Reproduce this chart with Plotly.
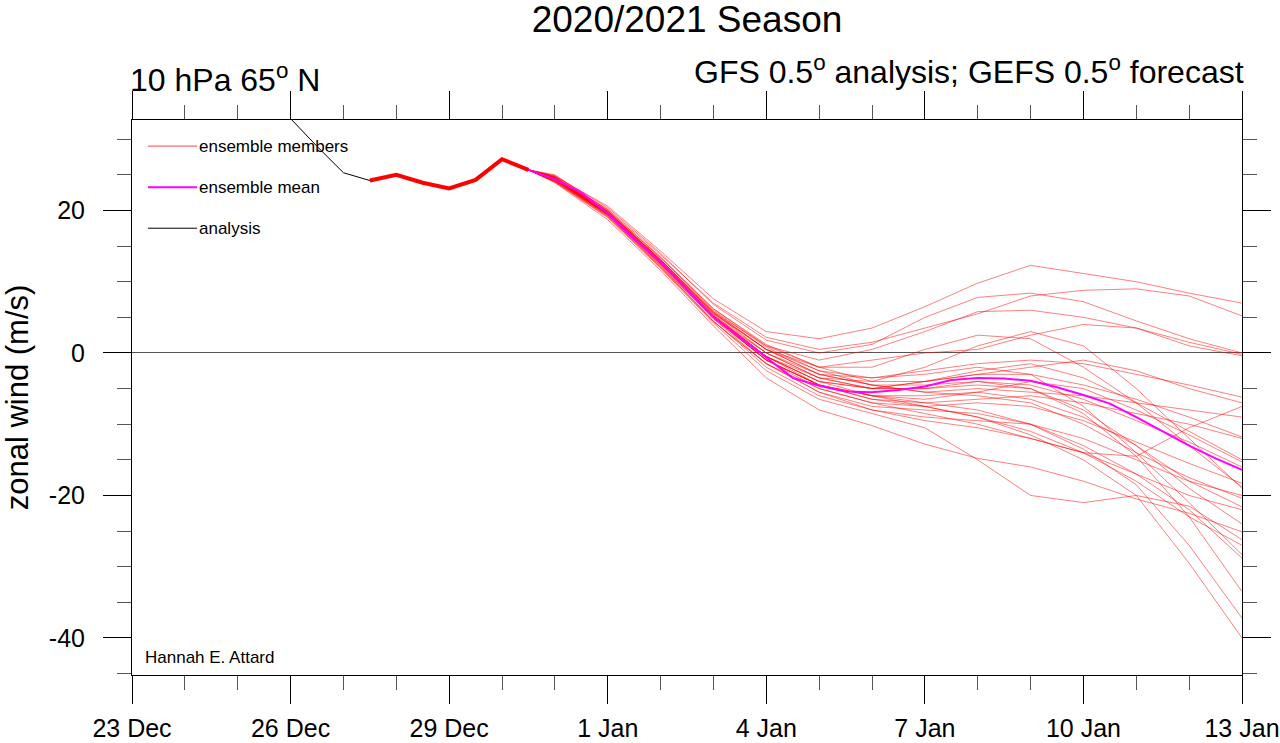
import pandas as pd
import plotly.graph_objects as go

# analise GFS (as primeiras horas saem pelo topo do grafico)
analysis_time = ['2020-12-26 00:00', '2020-12-26 12:00', '2020-12-27 00:00', '2020-12-27 12:00']
analysis_wind = [32.9, 29.0, 25.3, 24.2]

# inicio comum do ensemble, de 12 em 12 horas
start_time = list(pd.date_range('2020-12-27 12:00', '2020-12-30 12:00', freq='12h'))
start_wind = [24.2, 25.0, 23.9, 23.1, 24.3, 27.2, 25.7]

# membros do GEFS: 30 Dec 12Z, depois diario de 31 Dec ate 13 Jan
member_time = ['2020-12-30 12:00'] + list(pd.date_range('2020-12-31', '2021-01-13', freq='D'))
members = [
    [24.8, 20.6, 14.3, 7.6, 3.0, 2.0, 3.5, 6.5, 9.8, 12.3, 11.2, 10.0, 8.4, 7.0],
    [24.6, 20.2, 13.8, 7.0, 2.2, 0.5, 1.5, 3.5, 5.5, 8.0, 8.8, 9.0, 8.0, 5.2],
    [24.9, 20.4, 14.0, 6.8, 1.8, 0.0, 1.2, 5.0, 7.8, 8.4, 7.2, 4.5, 2.0, 0.0],
    [24.5, 19.9, 13.3, 6.2, 1.0, -1.0, 0.5, 3.0, 5.8, 6.0, 5.0, 3.5, 1.5, -0.2],
    [24.3, 19.5, 12.8, 5.6, 0.5, -2.0, -1.0, 0.0, 0.5, 2.5, 4.0, 3.5, 1.0, -0.4],
    [24.4, 19.6, 12.6, 5.0, 0.0, -3.0, -3.5, -2.5, -1.5, -1.0, -1.5, -3.0, -4.5, -6.2],
    [24.6, 19.8, 13.1, 5.8, 1.0, -2.0, -4.0, -4.0, -3.0, -2.0, -1.0, -2.5, -5.0, -7.0],
    [24.1, 19.2, 12.0, 4.4, -1.5, -5.0, -7.0, -8.5, -10.0, -12.0, -14.0, -14.5, -10.5, -7.5],
    [24.4, 19.6, 12.7, 5.2, -0.5, -4.0, -5.0, -4.0, -3.0, -3.0, -4.5, -6.5, -9.0, -11.8],
    [24.7, 19.9, 13.0, 5.5, 0.5, -2.5, -4.5, -5.5, -5.0, -5.5, -6.0, -7.0, -8.0, -9.0],
    [24.2, 19.4, 12.4, 4.8, -1.0, -4.5, -6.5, -7.0, -6.5, -6.0, -7.0, -8.5, -10.0, -12.0],
    [24.5, 19.6, 12.9, 5.4, -0.5, -4.0, -5.0, -4.0, -2.5, -1.5, -3.5, -7.0, -11.0, -15.0],
    [24.3, 19.4, 12.5, 5.0, -1.0, -4.5, -6.0, -6.5, -5.5, -4.0, -5.0, -8.0, -11.5, -15.3],
    [24.6, 19.7, 13.0, 5.6, 0.0, -3.5, -5.0, -5.0, -4.0, -4.5, -6.5, -9.5, -12.5, -16.0],
    [24.2, 19.5, 12.6, 5.0, -1.0, -5.0, -7.0, -7.5, -7.0, -7.5, -9.5, -12.5, -15.5, -18.3],
    [25.0, 20.0, 13.5, 6.2, 1.2, -2.0, -2.0, 0.5, 2.5, 2.0, -2.0, -7.0, -13.0, -18.8],
    [24.5, 19.6, 12.8, 5.2, -0.5, -3.5, -4.0, -2.0, 1.0, 3.0, 1.0, -5.0, -12.0, -19.0],
    [24.0, 19.1, 12.1, 4.4, -1.5, -5.5, -8.0, -9.0, -9.5, -10.0, -12.0, -15.0, -18.0, -20.0],
    [24.7, 19.9, 13.1, 5.8, 0.5, -3.0, -4.5, -5.5, -6.0, -7.0, -10.0, -14.0, -17.5, -20.4],
    [24.4, 19.5, 12.5, 5.0, -1.0, -4.5, -6.0, -6.0, -5.5, -6.5, -9.0, -13.0, -18.0, -21.6],
    [24.1, 19.3, 12.2, 4.5, -2.0, -6.0, -8.0, -9.5, -10.5, -12.0, -14.0, -17.0, -20.0, -22.0],
    [24.6, 19.7, 12.9, 5.3, 0.0, -3.5, -5.0, -5.0, -4.5, -5.0, -8.0, -13.0, -19.0, -24.0],
    [23.9, 18.7, 11.6, 3.8, -3.5, -8.0, -10.2, -12.8, -14.8, -16.0, -18.0, -20.5, -22.5, -25.1],
    [24.0, 19.0, 11.9, 4.2, -2.5, -6.5, -8.5, -10.5, -15.0, -20.0, -21.0, -20.0, -21.5, -26.2],
    [24.4, 19.5, 12.6, 5.0, -1.0, -4.5, -6.0, -7.5, -9.0, -11.0, -14.0, -18.0, -23.0, -27.0],
    [24.8, 20.1, 13.4, 6.0, 0.8, -2.5, -3.5, -3.0, -2.0, -3.0, -7.5, -14.0, -21.0, -28.3],
    [24.2, 19.3, 12.3, 4.8, -1.5, -5.5, -7.5, -8.0, -8.5, -10.0, -13.0, -17.0, -22.0, -28.8],
    [24.7, 19.8, 13.1, 5.7, 0.5, -3.0, -4.5, -4.5, -4.0, -5.0, -8.5, -14.5, -23.0, -33.5],
    [24.4, 19.5, 12.7, 5.1, -0.5, -4.0, -6.0, -7.0, -8.0, -10.0, -13.5, -18.5, -27.0, -37.2],
    [24.5, 19.6, 12.6, 5.2, -0.5, -4.5, -6.5, -7.5, -9.0, -11.5, -15.0, -20.0, -29.5, -40.0],
]

# media do ensemble, de 12 em 12 horas
mean_time = list(pd.date_range('2020-12-27 12:00', '2021-01-13 00:00', freq='12h'))
mean_wind = [24.2, 25.0, 23.9, 23.1, 24.3, 27.2, 25.7, 24.4, 22.5, 19.6,
             16.0, 12.8, 8.9, 5.0, 2.2, -0.6, -3.5, -4.6, -5.4, -5.5,
             -5.2, -4.7, -3.8, -3.5, -3.6, -3.9, -4.8, -5.9, -7.1, -9.0,
             -11.0, -13.0, -14.8, -16.4]

# eixo y
y_ticks = [-40, -20, 0, 20]
y_labels = ['-40', '-20', '0', '20']

member_color = 'rgba(255,0,0,0.5)'
font = 'Liberation Sans, Arial, sans-serif'

fig = go.Figure()

# cada membro do ensemble
for m in members:
    fig.add_trace(go.Scatter(x=member_time, y=[start_wind[-1]] + m,
                             mode='lines',
                             line=dict(color=member_color, width=1),
                             hoverinfo='skip'))

# media
fig.add_trace(go.Scatter(x=mean_time, y=mean_wind,
                         mode='lines',
                         line=dict(color='rgb(255,0,255)', width=2),
                         name='ensemble mean'))

# parte comum (todos os membros juntos), por cima da media
fig.add_trace(go.Scatter(x=start_time, y=start_wind,
                         mode='lines',
                         line=dict(color='rgb(255,0,0)', width=4),
                         name='ensemble members'))

# analise
fig.add_trace(go.Scatter(x=analysis_time, y=analysis_wind,
                         mode='lines',
                         line=dict(color='black', width=1),
                         name='analysis'))

# legenda feita a mao, como no original
legend = [('ensemble members', 'rgba(255,0,0,0.75)', 1, 0.953),
          ('ensemble mean', 'rgb(255,0,255)', 2, 0.879),
          ('analysis', 'black', 1, 0.805)]
for text, color, width, ypos in legend:
    fig.add_shape(type='line', xref='paper', yref='paper',
                  x0=0.0144, x1=0.0586, y0=ypos, y1=ypos,
                  line=dict(color=color, width=width))
    fig.add_annotation(text=text, xref='paper', yref='paper',
                       x=0.0586, y=ypos, xanchor='left', yanchor='middle',
                       showarrow=False, font=dict(size=17))

fig.add_annotation(text='Hannah E. Attard', xref='paper', yref='paper',
                   x=0.0099, y=0.0324, xanchor='left', yanchor='middle',
                   showarrow=False, font=dict(size=17))
fig.add_annotation(text='10 hPa 65<sup>o</sup> N', xref='paper', yref='paper',
                   x=0, y=1, xanchor='left', yanchor='bottom',
                   xshift=-4, yshift=20,
                   showarrow=False, font=dict(size=32))
fig.add_annotation(text='GFS 0.5<sup>o</sup> analysis; GEFS 0.5<sup>o</sup> forecast',
                   xref='paper', yref='paper',
                   x=1, y=1, xanchor='right', yanchor='bottom',
                   xshift=4, yshift=28,
                   showarrow=False, font=dict(size=32))

fig.update_layout(
    width=1280, height=743,
    margin=dict(l=132, r=38, t=120, b=68),
    plot_bgcolor='white', paper_bgcolor='white',
    showlegend=False,
    font=dict(family=font, color='black'),
    title=dict(text='2020/2021 Season', x=0.5, xref='paper', xanchor='center',
               y=0.974, yref='container', yanchor='middle',
               font=dict(size=37)),
)

fig.update_xaxes(
    type='date', range=['2020-12-23', '2021-01-13'],
    tickmode='linear', tick0='2020-12-23', dtick=3 * 86400000,
    tickformat='%-d %b', tickfont=dict(size=25),
    ticks='outside', ticklen=28, tickcolor='black', tickwidth=1,
    ticklabelstandoff=3, ticklabeloverflow='allow',
    minor=dict(ticks='outside', dtick=86400000, tick0='2020-12-23',
               ticklen=14, tickcolor='#555', showgrid=False),
    showline=True, linecolor='black', linewidth=1, mirror='ticks',
    showgrid=False, zeroline=False, automargin=False,
)

fig.update_yaxes(
    range=[-45.2, 32.7],
    tickmode='array', tickvals=y_ticks, ticktext=y_labels,
    tickfont=dict(size=25),
    ticks='outside', ticklen=28, tickcolor='black', tickwidth=1,
    ticklabelstandoff=13,
    minor=dict(ticks='outside', tickmode='linear', tick0=0, dtick=5,
               ticklen=14, tickcolor='#555', showgrid=False),
    showline=True, linecolor='black', linewidth=1, mirror='ticks',
    showgrid=False, automargin=False,
    zeroline=True, zerolinecolor='#555', zerolinewidth=1,
    title=dict(text='zonal wind (m/s)', font=dict(size=31), standoff=12),
)

# tira a margem do body para a figura ocupar a janela toda
fig.write_html('out.html', config={'displayModeBar': False},
               post_script="document.body.style.margin='0px';")
